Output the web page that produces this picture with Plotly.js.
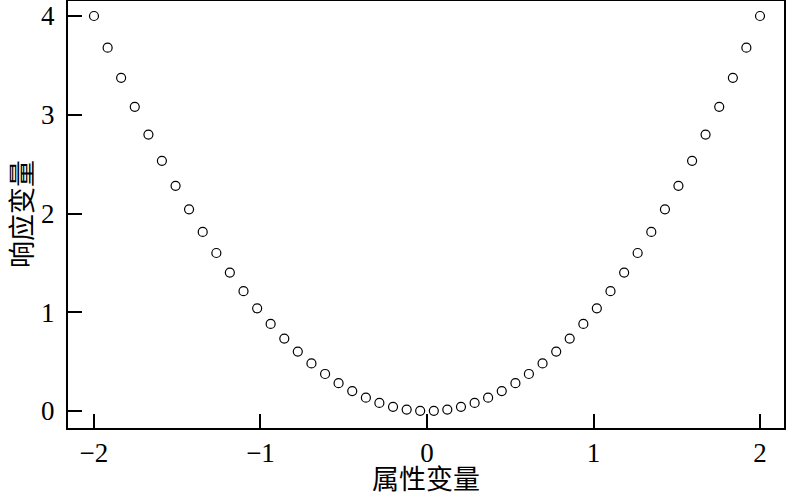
<!DOCTYPE html>
<html>
<head>
<meta charset="utf-8">
<script src="https://cdn.plot.ly/plotly-3.0.1.min.js"></script>
<style>html,body{margin:0;padding:0;background:#fff;}#chart{width:786px;height:496px;}</style>
</head>
<body>
<div id="chart"></div>
<script>
const xValues = [-2.000, -1.918, -1.837, -1.755, -1.673, -1.592, -1.510, -1.429, -1.347, -1.265,
  -1.184, -1.102, -1.020, -0.939, -0.857, -0.776, -0.694, -0.612, -0.531, -0.449,
  -0.367, -0.286, -0.204, -0.122, -0.041, 0.041, 0.122, 0.204, 0.286, 0.367,
  0.449, 0.531, 0.612, 0.694, 0.776, 0.857, 0.939, 1.020, 1.102, 1.184,
  1.265, 1.347, 1.429, 1.510, 1.592, 1.673, 1.755, 1.837, 1.918, 2.000];
const yValues = [4.000, 3.679, 3.374, 3.080, 2.799, 2.534, 2.280, 2.042, 1.814, 1.600,
  1.402, 1.214, 1.040, 0.882, 0.734, 0.602, 0.482, 0.375, 0.282, 0.202,
  0.135, 0.082, 0.042, 0.015, 0.002, 0.002, 0.015, 0.042, 0.082, 0.135,
  0.202, 0.282, 0.375, 0.482, 0.602, 0.734, 0.882, 1.040, 1.214, 1.402,
  1.600, 1.814, 2.042, 2.280, 2.534, 2.799, 3.080, 3.374, 3.679, 4.000];
const xTicks = [-2, -1, 0, 1, 2];
const xTickText = ['\u22122', '\u22121', '0', '1', '2'];
const yTicks = [0, 1, 2, 3, 4];
const xTitle = '属性变量';
const yTitle = '响应变量';

const tickFont = {family: '"Liberation Serif", "DejaVu Serif", serif', size: 27, color: '#000'};
const titleFont = {family: '"Noto Sans CJK SC", sans-serif', size: 27, color: '#000'};

Plotly.newPlot('chart', [{
  x: xValues, y: yValues, type: 'scatter', mode: 'markers',
  marker: {symbol: 'circle-open', size: 9, color: '#000', line: {width: 1.2, color: '#000'}},
  cliponaxis: false, hoverinfo: 'skip'
}], {
  width: 786, height: 496,
  margin: {l: 68, r: 2, t: 1, b: 68},
  paper_bgcolor: '#fff', plot_bgcolor: '#fff',
  showlegend: false,
  xaxis: {
    range: [-2.156, 2.144], tickvals: xTicks, ticktext: xTickText,
    ticks: 'inside', ticklen: 14, tickwidth: 2, tickcolor: '#000',
    showline: true, linewidth: 2, linecolor: '#000', mirror: true,
    showgrid: false, zeroline: false, tickfont: tickFont, ticklabelstandoff: 0
  },
  yaxis: {
    range: [-0.172, 4.152], tickvals: yTicks,
    ticks: 'inside', ticklen: 14, tickwidth: 2, tickcolor: '#000',
    showline: true, linewidth: 2, linecolor: '#000', mirror: true,
    showgrid: false, zeroline: false, tickfont: tickFont, ticklabelstandoff: 6
  },
  annotations: [
    {text: xTitle, xref: 'paper', yref: 'paper', x: 0.5, y: 0, xanchor: 'center', yanchor: 'bottom',
     yshift: -71, showarrow: false, font: titleFont},
    {text: yTitle, xref: 'paper', yref: 'paper', x: 0, y: 0.5, xanchor: 'left', yanchor: 'middle',
     xshift: -69, textangle: -90, showarrow: false, font: titleFont}
  ]
}, {staticPlot: true, displayModeBar: false});
</script>
</body>
</html>
